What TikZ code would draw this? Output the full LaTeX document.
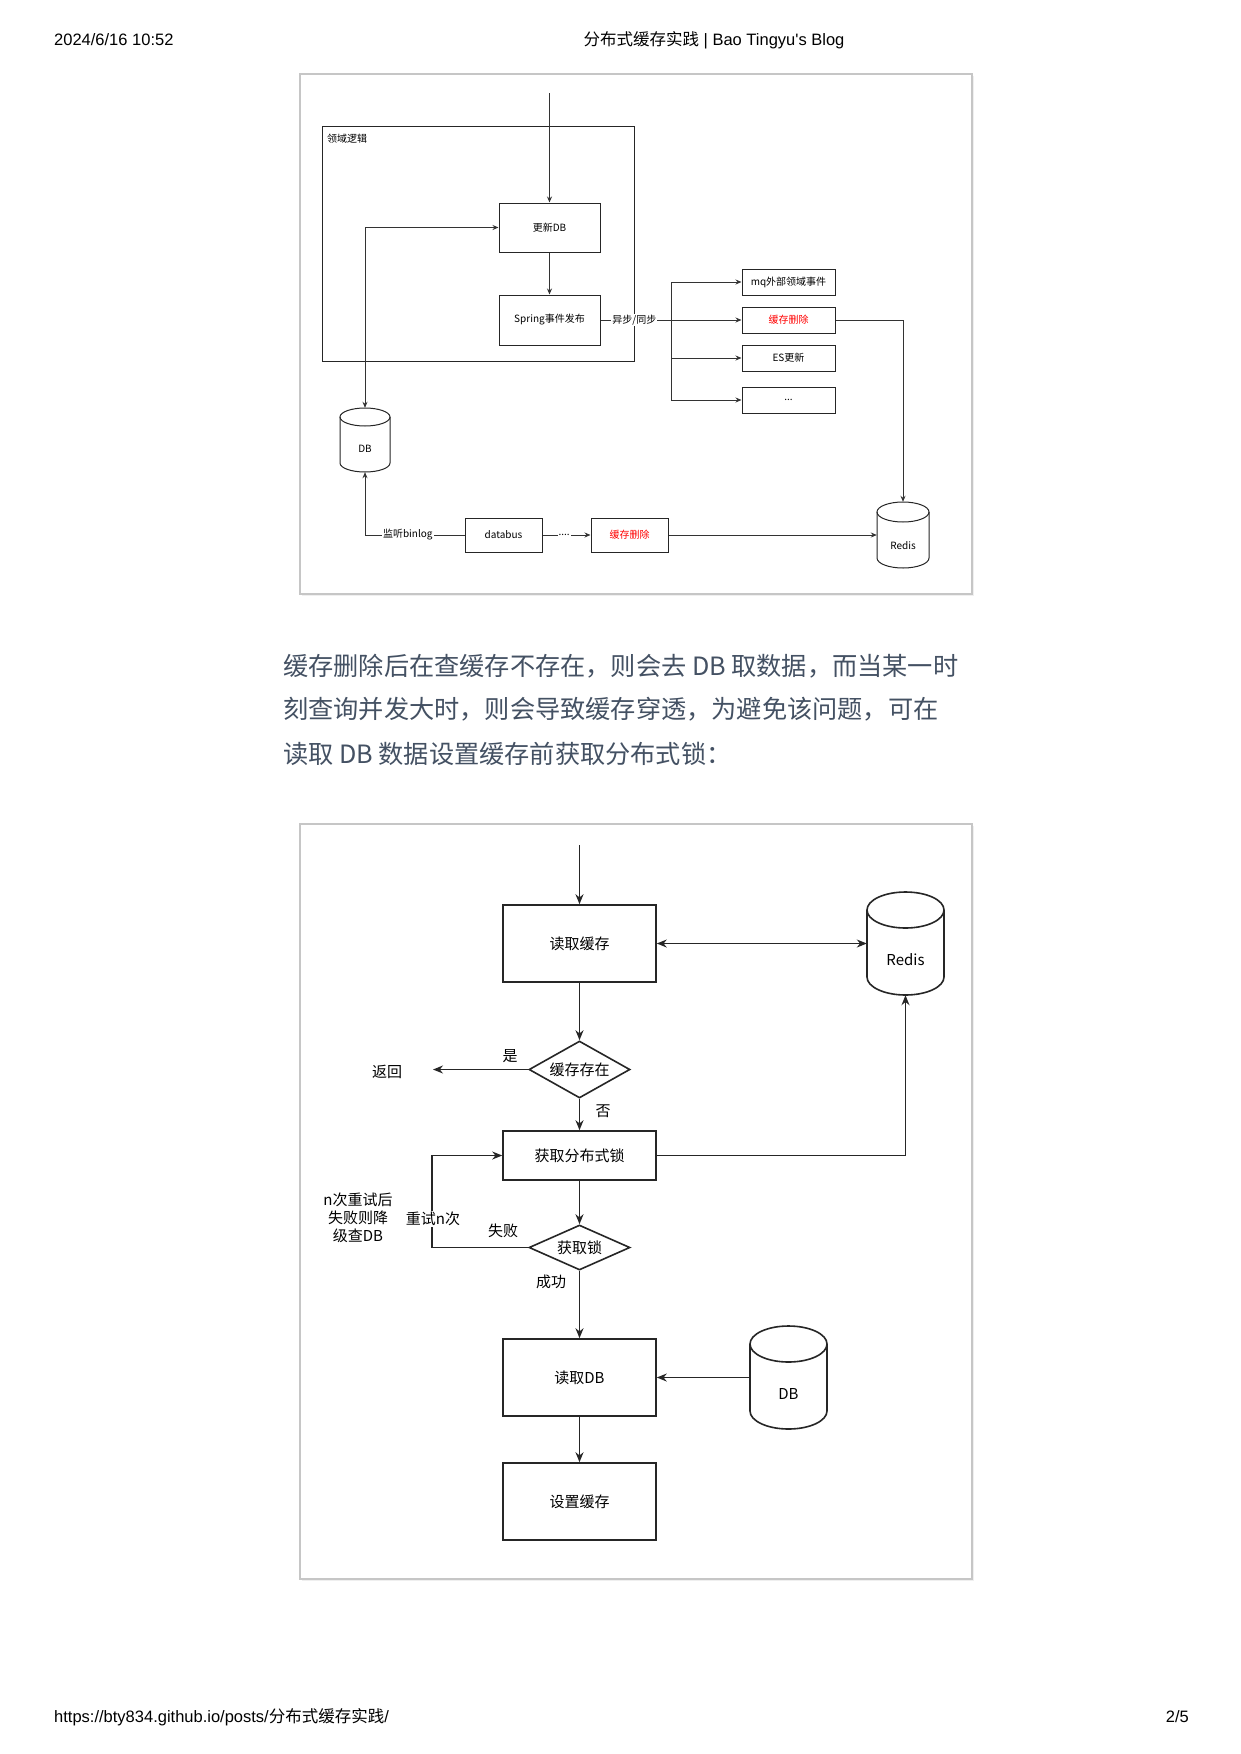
\documentclass[tikz,border=0pt]{standalone}
\usepackage{fontspec}
\setmainfont{Liberation Sans}
\newfontfamily\cjk{Noto Sans CJK SC}
\usetikzlibrary{shapes.geometric,arrows.meta,shadows}
\definecolor{para}{HTML}{445163}
\definecolor{framec}{HTML}{C6C6C6}
\newcommand{\fs}[1]{\fontsize{#1}{#1}\selectfont}
% cylinder: #1 name, #2 cx, #3 top, #4 bottom, #5 rx, #6 ry, #7 line width
\newcommand{\drawcyl}[7]{%
  \draw[line width=#7, draw=black!85, fill=white] ({#2-#5},{#3+#6}) -- ({#2-#5},{#4-#6})
     arc[start angle=180, end angle=0, x radius=#5, y radius=#6] -- ({#2+#5},{#3+#6});
  \draw[line width=#7, draw=black!85] (#2,{#3+#6}) ellipse[x radius=#5, y radius=#6];
  \node[minimum width={2*#5}, minimum height={#4-#3}, inner sep=0pt, draw=none] (#1) at (#2,{(#3+#4)/2}) {};
}
\begin{document}
\begin{tikzpicture}[x=1pt,y=-1pt,
  frame/.style={draw=framec, line width=2.2pt, fill=white, inner sep=0pt,
    drop shadow={opacity=0.12, shadow xshift=2pt, shadow yshift=-2pt}},
  sbox/.style={draw=black!85, line width=1pt, inner sep=0pt, font=\cjk\fs{10}},
  sline/.style={draw=black!80, line width=0.9pt},
  sarr/.style={sline, -{Stealth[length=6pt,width=5pt]}},
  bbox/.style={draw=black!85, line width=1.6pt, inner sep=0pt, font=\cjk\fs{15}},
  bline/.style={draw=black!85, line width=1.3pt},
  barr/.style={bline, -{Stealth[length=10pt,width=8pt]}},
  lbl/.style={font=\cjk\fs{15}, inner sep=1pt},
  slbl/.style={font=\cjk\fs{10}, inner sep=1pt, fill=white},
  ptext/.style={anchor=west, font=\cjk\fs{25.2}, text=para, inner sep=0pt},
  htext/.style={font=\fs{16.5}, inner sep=0pt},
]
\useasboundingbox (0,0) rectangle (1241,1754);
\fill[white] (0,0) rectangle (1241,1754);

% header / footer
\node[htext, anchor=west] (hdate) at (54,40) {2024/6/16 10:52};
\node[htext] (htitle) at (714,40) {{\cjk 分布式缓存实践} | Bao Tingyu\textquotesingle s Blog};
\node[htext, anchor=west] (furl) at (54,1717) {https://bty834.github.io/posts/{\cjk 分布式缓存实践}/};
\node[htext, anchor=east] (fpage) at (1189,1717) {2/5};

% ===== top diagram =====
\node[frame, minimum width=672, minimum height=520] (f1) at (636,334) {};
\node[sbox, minimum width=312, minimum height=235] (dom) at (478,243.5) {};
\node[anchor=west, font=\cjk\fs{10}, inner sep=0pt] (domt) at (327,139) {领域逻辑};
\coordinate (tin) at (549.5,93);
\node[sbox, minimum width=101, minimum height=49] (upd) at (549.5,227.5) {更新DB};
\node[sbox, minimum width=101, minimum height=50] (spr) at (549.5,320) {Spring事件发布};
\node[sbox, minimum width=93, minimum height=26] (mq) at (788.5,282) {mq外部领域事件};
\node[sbox, minimum width=93, minimum height=26, text=red] (cd1) at (788.5,320) {缓存删除};
\node[sbox, minimum width=93, minimum height=26] (es) at (788.5,358) {ES更新};
\node[sbox, minimum width=93, minimum height=26] (more) at (788.5,400) {...};
\drawcyl{dbt}{365}{408}{472}{25}{9}{1pt}
\node[font=\cjk\fs{10}, inner sep=0pt] (dbtt) at (365,449) {DB};
\drawcyl{rdt}{903}{502}{568}{26}{10}{1pt}
\node[font=\cjk\fs{10}, inner sep=0pt] (rdtt) at (903,546) {Redis};
\node[sbox, minimum width=77, minimum height=34] (dbs) at (503.5,535) {databus};
\node[sbox, minimum width=77, minimum height=34, text=red] (cd2) at (629.5,535) {缓存删除};

\draw[sarr] (tin) -- (upd.north);
\draw[sline, {Stealth[length=6pt,width=5pt]}-{Stealth[length=6pt,width=5pt]}] (upd.west) -| (dbt.north);
\draw[sarr] (upd) -- (spr);
\draw[sarr] (spr.east) -- node[slbl, pos=0.24] {异步/同步} (cd1.west);
\coordinate (bustop) at (671,282);
\coordinate (busbot) at (671,400);
\draw[sline] (bustop) -- (busbot);
\draw[sarr] (bustop) -- (mq.west);
\draw[sarr] (bustop |- es.west) -- (es.west);
\draw[sarr] (busbot) -- (more.west);
\draw[sarr] (cd1.east) -| (rdt.north);
\draw[sarr] (dbs.west) -- node[slbl, pos=0.57] {监听binlog} (dbt.south |- dbs.west) -- (dbt.south);
\draw[sarr] (dbs.east) -- node[slbl, pos=0.45] {....} (cd2.west);
\draw[sarr] (cd2.east) -- (rdt.west);

% ===== paragraph =====
\node[ptext] (p1) at (283,666) {缓存删除后在查缓存不存在，则会去 DB 取数据，而当某一时};
\node[ptext] (p2) at (283,709) {刻查询并发大时，则会导致缓存穿透，为避免该问题，可在};
\node[ptext] (p3) at (283,754) {读取 DB 数据设置缓存前获取分布式锁：};

% ===== bottom diagram =====
\node[frame, minimum width=672, minimum height=755] (f2) at (636,1201.5) {};
\coordinate (bin) at (579.5,845);
\node[bbox, minimum width=153, minimum height=77] (rc) at (579.5,943.5) {读取缓存};
\drawcyl{rdb}{905.5}{892}{995}{38.5}{18}{1.6pt}
\node[font=\cjk\fs{15}, inner sep=0pt] (rdbt) at (905.5,960) {Redis};
\draw[barr] (bin) -- (rc.north);
\draw[bline, {Stealth[length=10pt,width=8pt]}-{Stealth[length=10pt,width=8pt]}] (rc.east) -- (rdb.west);
\node[bbox, diamond, aspect=2, minimum width=101, minimum height=57] (d1) at (579.5,1069.5) {缓存存在};
\draw[barr] (rc) -- (d1);
\coordinate (retc) at (433,1069.5);
\node[lbl] (ret) at (387,1072) {返回};
\draw[barr] (d1.west) -- (retc);
\node[lbl] (yes) at (510,1056) {是};
\node[lbl] (no) at (603,1111) {否};
\node[bbox, minimum width=153, minimum height=49] (lock) at (579.5,1155.5) {获取分布式锁};
\draw[barr] (d1) -- (lock);
\draw[barr] (lock.east) -| (rdb.south);
\node[bbox, diamond, aspect=2.2, minimum width=101, minimum height=45] (d2) at (579.5,1247.5) {获取锁};
\draw[barr] (lock) -- (d2);
\coordinate (loopc) at (432,1247.5);
\draw[barr] (d2.west) -- (loopc) |- (lock.west);
\node[lbl, fill=white] (retry) at (433,1219) {重试n次};
\node[lbl] (fail) at (503,1231) {失败};
\node[lbl] (succ) at (551,1282) {成功};
\node[font=\cjk\fontsize{15}{18}\selectfont, align=center, inner sep=0pt] (note) at (358,1218) {n次重试后\\失败则降\\级查DB};
\node[bbox, minimum width=153, minimum height=77] (rdx) at (579.5,1377.5) {读取DB};
\drawcyl{dbb}{788.5}{1326}{1429}{38.5}{18}{1.6pt}
\node[font=\cjk\fs{15}, inner sep=0pt] (dbbt) at (788.5,1394) {DB};
\draw[barr] (d2) -- (rdx);
\draw[barr] (dbb.west) -- (rdx.east);
\node[bbox, minimum width=153, minimum height=77] (setc) at (579.5,1501.5) {设置缓存};
\draw[barr] (rdx) -- (setc);
\end{tikzpicture}
\end{document}
